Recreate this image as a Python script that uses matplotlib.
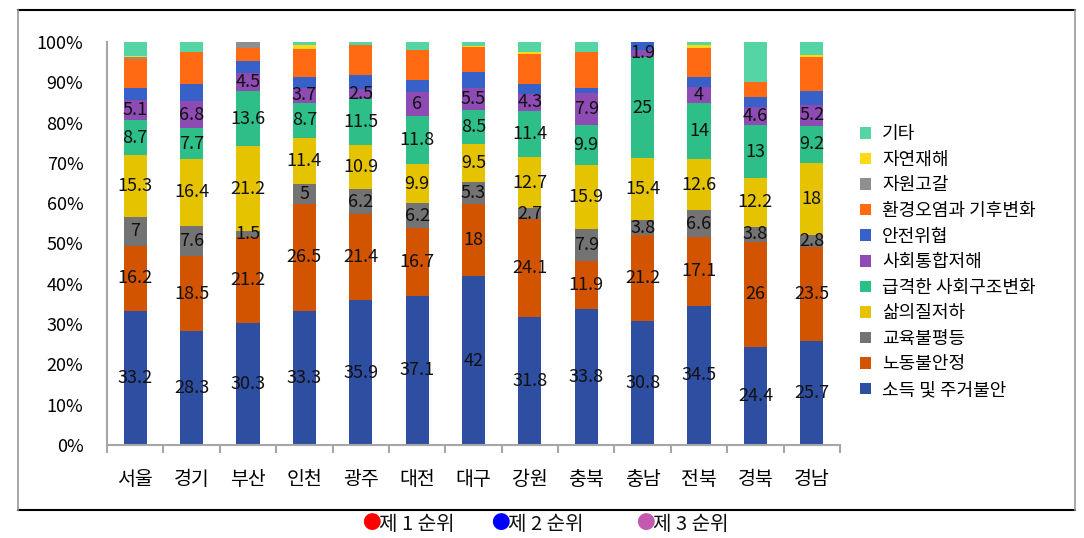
import matplotlib
matplotlib.use("Agg")
import matplotlib.pyplot as plt
from matplotlib.patches import Patch
from matplotlib.lines import Line2D
import numpy as np

plt.rcParams['font.family'] = ['Noto Sans CJK KR', 'DejaVu Sans']

regions = ["서울", "경기", "부산", "인천", "광주", "대전", "대구", "강원", "충북", "충남", "전북", "경북", "경남"]

# series, bottom to top
income    = [33.2, 28.3, 30.3, 33.3, 35.9, 37.1, 42.0, 31.8, 33.8, 30.8, 34.5, 24.4, 25.7]
labor     = [16.2, 18.5, 21.2, 26.5, 21.4, 16.7, 18.0, 24.1, 11.9, 21.2, 17.1, 26.0, 23.5]
education = [7.0, 7.6, 1.5, 5.0, 6.2, 6.2, 5.3, 2.7, 7.9, 3.8, 6.6, 3.8, 2.8]
quality   = [15.3, 16.4, 21.2, 11.4, 10.9, 9.9, 9.5, 12.7, 15.9, 15.4, 12.6, 12.2, 18.0]
social_ch = [8.7, 7.7, 13.6, 8.7, 11.5, 11.8, 8.5, 11.4, 9.9, 25.0, 14.0, 13.0, 9.2]
cohesion  = [5.1, 6.8, 4.5, 3.7, 2.5, 6.0, 5.5, 4.3, 7.9, 1.9, 4.0, 4.6, 5.2]
safety    = [2.9, 4.1, 3.1, 2.7, 3.3, 3.0, 4.0, 2.5, 1.3, 1.9, 2.5, 2.5, 3.5]
environ   = [7.1, 7.9, 3.2, 6.9, 7.5, 7.4, 6.1, 7.4, 9.0, 0.0, 7.2, 3.7, 8.4]
resource  = [0.6, 0.0, 1.4, 0.0, 0.0, 0.0, 0.0, 0.0, 0.0, 0.0, 0.0, 0.0, 0.0]
disaster  = [0.3, 0.0, 0.0, 1.0, 0.0, 0.0, 0.3, 0.3, 0.0, 0.0, 0.6, 0.0, 0.5]
other     = [3.4, 2.6, 0.0, 0.8, 0.8, 2.0, 1.0, 2.6, 2.4, 0.0, 0.8, 9.9, 3.2]

series = [income, labor, education, quality, social_ch, cohesion,
          safety, environ, resource, disaster, other]
names = ["소득 및 주거불안", "노동불안정", "교육불평등", "삶의질저하", "급격한 사회구조변화",
         "사회통합저해", "안전위협", "환경오염과 기후변화", "자원고갈", "자연재해", "기타"]
colors = ["#2E4EA2", "#D35400", "#737373", "#E6C300", "#2EBE87",
          "#8E4BB3", "#3761C9", "#FF6A12", "#8F8F8F", "#FFD816", "#55D5A3"]
labeled = 6  # only the first six series carry value labels

rank_labels = ["제 1 순위", "제 2 순위", "제 3 순위"]
rank_colors = ["#FF0000", "#0000FF", "#C45AAE"]

data = np.array(series, dtype=float)
shares = data / data.sum(axis=0) * 100

fig = plt.figure(figsize=(10.84, 5.38), dpi=100)
ax = fig.add_axes([107 / 1084, 1 - 445 / 538, (840 - 107) / 1084, (445 - 42) / 538])

x = np.arange(len(regions))
bottom = np.zeros(len(regions))
for i, (vals, share) in enumerate(zip(series, shares)):
    ax.bar(x, share, 0.41, bottom=bottom, color=colors[i], label=names[i], linewidth=0)
    if i < labeled:
        for xi, v, s, b in zip(x, vals, share, bottom):
            ax.text(xi, b + s / 2, f"{v:g}", ha="center", va="center",
                    fontsize=13, color="#111111")
    bottom += share

ax.set_xlim(-0.5, len(regions) - 0.5)
ax.set_ylim(0, 100)
ax.set_yticks(np.arange(0, 101, 10))
ax.set_yticklabels([f"{v}%" for v in range(0, 101, 10)], fontsize=13)
ax.tick_params(axis="y", length=0, pad=17)
ax.set_xticks(x)
ax.set_xticklabels(regions, fontsize=14)
ax.tick_params(axis="x", length=0, pad=17)
ax.set_xticks(np.arange(-0.5, len(regions)), minor=True)
ax.tick_params(axis="x", which="minor", length=6, color="#A6A6A6", width=1.5)
for side in ["top", "right"]:
    ax.spines[side].set_visible(False)
ax.spines["left"].set_color("#A6A6A6")
ax.spines["bottom"].set_color("#A6A6A6")
ax.spines["left"].set_linewidth(1.5)
ax.spines["bottom"].set_linewidth(1.5)

# right legend, top entry first
handles = [Patch(facecolor=c, edgecolor="none") for c in colors][::-1]
fig.legend(handles, names[::-1], loc="upper left",
           bbox_to_anchor=(853 / 1084, 1 - 118 / 538), frameon=False,
           fontsize=13, handlelength=0.6, handleheight=0.6,
           handletextpad=0.6, labelspacing=0.42, borderaxespad=0)

# bottom rank legend
rank_x = [362, 491, 636]
for rx, lbl, c in zip(rank_x, rank_labels, rank_colors):
    fig.text(rx / 1084, 1 - 524 / 538, "●", color=c, fontsize=13.5, va="center", ha="left")
    fig.text((rx + 17) / 1084, 1 - 524 / 538, lbl, color="#111111", fontsize=14.5,
             va="center", ha="left")

# outer frame
fx0, fx1 = 18 / 1084, 1075 / 1084
fy0, fy1 = 1 - 510 / 538, 1 - 10 / 538
fig.add_artist(Line2D([fx0, fx1], [fy1, fy1], color="black", lw=1.5))
fig.add_artist(Line2D([fx0, fx1], [fy0, fy0], color="black", lw=1.5))
fig.add_artist(Line2D([fx0, fx0], [fy0, fy1], color="#9A9A9A", lw=1.2))
fig.add_artist(Line2D([fx1, fx1], [fy0, fy1], color="#9A9A9A", lw=1.2))

fig.savefig("out.png", dpi=100)
